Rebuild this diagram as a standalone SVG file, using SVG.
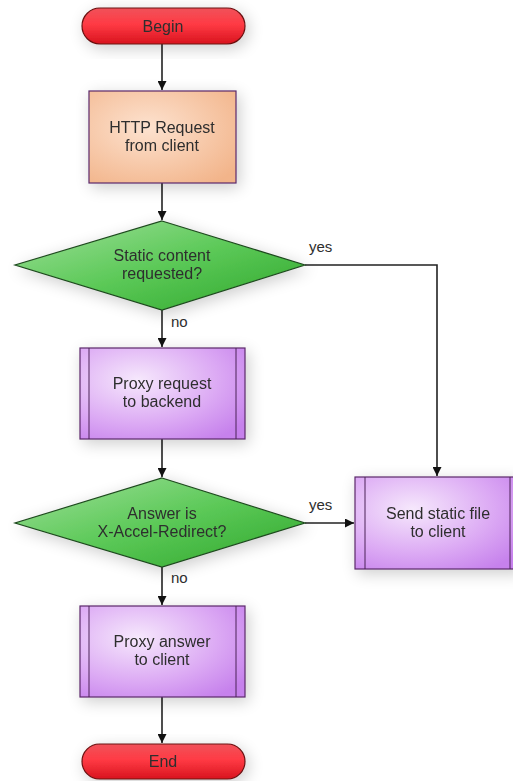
<svg xmlns="http://www.w3.org/2000/svg" width="513" height="781" viewBox="0 0 513 781">
<defs>
<filter id="sh" x="-30%" y="-40%" width="160%" height="180%">
<feGaussianBlur in="SourceAlpha" stdDeviation="8"/>
<feOffset dx="3" dy="4" result="b"/>
<feComponentTransfer><feFuncA type="linear" slope="0.2"/></feComponentTransfer>
<feMerge><feMergeNode/><feMergeNode in="SourceGraphic"/></feMerge>
</filter>
<linearGradient id="red" x1="0" y1="0" x2="0" y2="1">
<stop offset="0" stop-color="#f0525a"/>
<stop offset="0.45" stop-color="#ff3a44"/>
<stop offset="1" stop-color="#d8141e"/>
</linearGradient>
<radialGradient id="orange" cx="0.4" cy="0.4" r="0.75">
<stop offset="0" stop-color="#fde2cf"/>
<stop offset="1" stop-color="#f2b48a"/>
</radialGradient>
<radialGradient id="purple" cx="0.35" cy="0.35" r="0.8">
<stop offset="0" stop-color="#f6e8fc"/>
<stop offset="0.6" stop-color="#dcaaf4"/>
<stop offset="1" stop-color="#c681ec"/>
</radialGradient>
<linearGradient id="green" x1="0" y1="0" x2="1" y2="1">
<stop offset="0" stop-color="#9fe09a"/>
<stop offset="0.5" stop-color="#5cc958"/>
<stop offset="1" stop-color="#2da62a"/>
</linearGradient>
<marker id="arr" viewBox="0 0 10 10" refX="10" refY="5" markerWidth="9" markerHeight="9" markerUnits="userSpaceOnUse" orient="auto">
<path d="M0,0 L10,5 L0,10 z" fill="#111"/>
</marker>
</defs>
<style>
text{font-family:"Liberation Sans",Arial,sans-serif;font-size:16px;fill:#2e2e2e;text-anchor:middle}
.lbl{text-anchor:start;font-size:15px}
.pill{fill:url(#red);stroke:#6a1010;stroke-width:1.2}
.box{stroke:#5a2a6a;stroke-width:1.2}
.bar{stroke:#4a2256;stroke-width:1;fill:none}
.dia{fill:url(#green);stroke:#1f4a1f;stroke-width:1.2}
.c{fill:none;stroke:#222;stroke-width:1.6}
</style>
<rect width="513" height="781" fill="#ffffff"/>
<g id="connectors">
<path class="c" d="M162,44 V90" marker-end="url(#arr)"/>
<path class="c" d="M162,183 V220" marker-end="url(#arr)"/>
<path class="c" d="M305,265 H437 V476" marker-end="url(#arr)"/>
<path class="c" d="M162,310 V347" marker-end="url(#arr)"/>
<path class="c" d="M162,439 V477" marker-end="url(#arr)"/>
<path class="c" d="M305,523 H354" marker-end="url(#arr)"/>
<path class="c" d="M162,567 V605" marker-end="url(#arr)"/>
<path class="c" d="M162,697 V743" marker-end="url(#arr)"/>
<text class="lbl" x="309" y="252">yes</text>
<text class="lbl" x="171" y="327">no</text>
<text class="lbl" x="309" y="510">yes</text>
<text class="lbl" x="171" y="583">no</text>
</g>
<g id="begin" filter="url(#sh)">
<rect class="pill" x="82" y="8" width="163" height="36" rx="18"/>
<text x="163" y="32">Begin</text>
</g>
<g id="http" filter="url(#sh)">
<rect class="box" x="89" y="91" width="147" height="92" fill="url(#orange)" stroke="#5a3a2a"/>
<text x="162" y="133">HTTP Request</text>
<text x="162" y="151">from client</text>
</g>
<g id="static" filter="url(#sh)">
<polygon class="dia" points="162,221 305,265 162,310 15,265"/>
<text x="162" y="261">Static content</text>
<text x="162" y="279">requested?</text>
</g>
<g id="proxyreq" filter="url(#sh)">
<rect class="box" x="80" y="348" width="165" height="91" fill="url(#purple)"/>
<path class="bar" d="M89,348 V439 M236,348 V439"/>
<text x="162" y="389">Proxy request</text>
<text x="162" y="407">to backend</text>
</g>
<g id="accel" filter="url(#sh)">
<polygon class="dia" points="162,478 305,523 162,567 15,523"/>
<text x="162" y="519">Answer is</text>
<text x="162" y="537">X-Accel-Redirect?</text>
</g>
<g id="sendstatic" filter="url(#sh)">
<rect class="box" x="355" y="477" width="165" height="92" fill="url(#purple)"/>
<path class="bar" d="M365,477 V569 M510,477 V569"/>
<text x="438" y="519">Send static file</text>
<text x="438" y="537">to client</text>
</g>
<g id="proxyans" filter="url(#sh)">
<rect class="box" x="80" y="606" width="165" height="91" fill="url(#purple)"/>
<path class="bar" d="M89,606 V697 M236,606 V697"/>
<text x="162" y="647">Proxy answer</text>
<text x="162" y="665">to client</text>
</g>
<g id="end" filter="url(#sh)">
<rect class="pill" x="82" y="744" width="163" height="35" rx="17.5"/>
<text x="163" y="767">End</text>
</g>
</svg>
